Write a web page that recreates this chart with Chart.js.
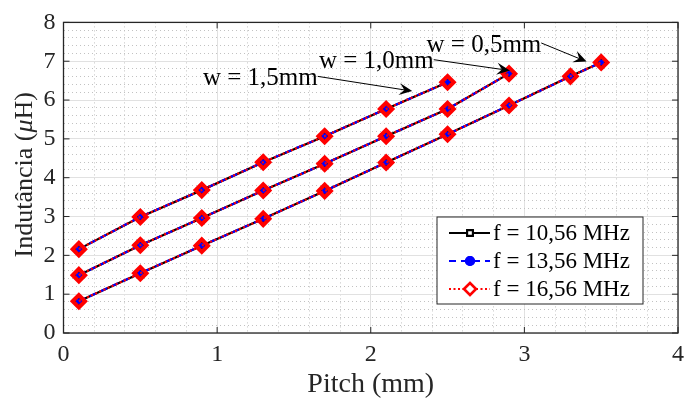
<!DOCTYPE html>
<html>
<head>
<meta charset="utf-8">
<script src="https://cdn.jsdelivr.net/npm/chart.js@4.4.1/dist/chart.umd.min.js"></script>
<style>
  html, body { margin: 0; padding: 0; background: #fff; }
  #wrap { position: relative; width: 697px; height: 400px; }
</style>
</head>
<body>
<div id="wrap"><canvas id="chart"></canvas></div>
<script>
// pitch (mm) and inductance (uH) for each trace width
const pitch15 = [0.1, 0.5, 0.9, 1.3, 1.7, 2.1, 2.5]
const ind15 = [2.16, 2.99, 3.68, 4.40, 5.07, 5.77, 6.46]
const pitch10 = [0.1, 0.5, 0.9, 1.3, 1.7, 2.1, 2.5, 2.9]
const ind10 = [1.49, 2.26, 2.96, 3.67, 4.36, 5.07, 5.77, 6.68]
const pitch05 = [0.1, 0.5, 0.9, 1.3, 1.7, 2.1, 2.5, 2.9, 3.3, 3.5]
const ind05 = [0.82, 1.54, 2.25, 2.94, 3.66, 4.39, 5.12, 5.86, 6.61, 6.97]

const freqLabels = ['f = 10,56 MHz', 'f = 13,56 MHz', 'f = 16,56 MHz']
const widthLabels = ['w = 1,5mm', 'w = 1,0mm', 'w = 0,5mm']

const SERIF = '"Liberation Serif", "Times New Roman", serif'
const AXIS_COLOR = '#262626'

// one look per frequency: black squares, blue dots, red diamonds
const freqStyles = [
  { color: '#000000', dash: [], pointStyle: 'rect', radius: 4.5, fill: 'rgba(0,0,0,0)', pointBorder: 2, order: 2 },
  { color: '#0000ff', dash: [7, 5], pointStyle: 'circle', radius: 2.5, fill: '#0000ff', pointBorder: 1, order: 1 },
  { color: '#ff0000', dash: [2, 2.5], pointStyle: 'rectRot', radius: 6.2, fill: 'rgba(0,0,0,0)', pointBorder: 4, order: 0 }
]

// arrow annotations in data units (text sits left of the tail)
const notes = [
  { text: widthLabels[0], from: [1.655, 6.61], to: [2.27, 6.23] },
  { text: widthLabels[1], from: [2.41, 7.04], to: [2.905, 6.76] },
  { text: widthLabels[2], from: [3.11, 7.47], to: [3.405, 6.99] }
]

const groups = [[pitch15, ind15], [pitch10, ind10], [pitch05, ind05]]

function toPoints(xs, ys) {
  return xs.map((x, i) => ({ x: x, y: ys[i] }))
}

const datasets = []
freqStyles.forEach((s, fi) => {
  groups.forEach((g, gi) => {
    datasets.push({
      label: freqLabels[fi],
      data: toPoints(g[0], g[1]),
      borderColor: s.color,
      borderWidth: 2.2,
      borderDash: s.dash,
      pointStyle: s.pointStyle,
      pointRadius: s.radius,
      pointBorderWidth: s.pointBorder,
      pointBorderColor: s.color,
      pointBackgroundColor: s.fill,
      order: s.order,
      tension: 0,
      fill: false
    })
  })
})

const isMajor = v => Math.abs(v - Math.round(v)) < 1e-6

function gridScale(max) {
  return {
    type: 'linear',
    min: 0,
    max: max,
    ticks: {
      stepSize: 0.2,
      autoSkip: false,
      maxTicksLimit: 100,
      maxRotation: 0,
      color: AXIS_COLOR,
      font: { family: SERIF, size: 24 },
      callback: v => isMajor(v) ? String(Math.round(v)) : ''
    },
    grid: {
      drawTicks: false,
      lineWidth: 1,
      color: c => isMajor(c.tick.value) ? '#e1e1e1' : '#c2c2c2'
    },
    border: {
      display: false,
      dash: c => (c.tick && !isMajor(c.tick.value)) ? [1, 3] : []
    }
  }
}

const xScale = gridScale(4)
xScale.ticks.padding = 7
xScale.title = {
  display: true,
  text: 'Pitch (mm)',
  color: AXIS_COLOR,
  font: { family: SERIF, size: 28, lineHeight: 1 },
  padding: { top: 0, bottom: 1 }
}
xScale.afterFit = s => { s.height = 67 }

const yScale = gridScale(8)
yScale.ticks.padding = 8
yScale.afterFit = s => { s.width = 63.5 }

// box, inner tick marks, y title with italic mu
const framePlugin = {
  id: 'frame',
  afterDatasetsDraw(chart) {
    const ctx = chart.ctx
    const a = chart.chartArea
    const xs = chart.scales.x, ys = chart.scales.y
    ctx.save()
    ctx.strokeStyle = AXIS_COLOR
    ctx.lineWidth = 1
    ctx.setLineDash([])
    ctx.beginPath()
    for (let v = 0; v <= 4; v++) {
      const px = xs.getPixelForValue(v)
      ctx.moveTo(px, a.bottom); ctx.lineTo(px, a.bottom - 6)
      ctx.moveTo(px, a.top); ctx.lineTo(px, a.top + 6)
    }
    for (let v = 0; v <= 8; v++) {
      const py = ys.getPixelForValue(v)
      ctx.moveTo(a.left, py); ctx.lineTo(a.left + 6, py)
      ctx.moveTo(a.right, py); ctx.lineTo(a.right - 6, py)
    }
    ctx.stroke()
    ctx.lineWidth = 1.3
    ctx.strokeRect(a.left, a.top, a.right - a.left, a.bottom - a.top)

    // y axis title
    const parts = [['Indutância (', ''], ['μ', 'italic '], ['H)', '']]
    ctx.fillStyle = AXIS_COLOR
    ctx.textBaseline = 'alphabetic'
    ctx.textAlign = 'left'
    let total = 0
    parts.forEach(p => { ctx.font = p[1] + '26px ' + SERIF; total += ctx.measureText(p[0]).width })
    ctx.translate(32, (a.top + a.bottom) / 2 - 3)
    ctx.rotate(-Math.PI / 2)
    let cx = -total / 2
    parts.forEach(p => {
      ctx.font = p[1] + '26px ' + SERIF
      ctx.fillText(p[0], cx, 0)
      cx += ctx.measureText(p[0]).width
    })
    ctx.restore()
  }
}

// arrows with labels
const notesPlugin = {
  id: 'notes',
  afterDatasetsDraw(chart) {
    const ctx = chart.ctx
    const xs = chart.scales.x, ys = chart.scales.y
    ctx.save()
    notes.forEach(n => {
      const x0 = xs.getPixelForValue(n.from[0]), y0 = ys.getPixelForValue(n.from[1])
      const x1 = xs.getPixelForValue(n.to[0]), y1 = ys.getPixelForValue(n.to[1])
      const ang = Math.atan2(y1 - y0, x1 - x0)
      const len = 13, half = 6, notch = 8
      ctx.strokeStyle = '#000'
      ctx.fillStyle = '#000'
      ctx.lineWidth = 1
      ctx.setLineDash([])
      ctx.beginPath()
      ctx.moveTo(x0, y0)
      ctx.lineTo(x1 - Math.cos(ang) * notch, y1 - Math.sin(ang) * notch)
      ctx.stroke()
      ctx.save()
      ctx.translate(x1, y1)
      ctx.rotate(ang)
      ctx.beginPath()
      ctx.moveTo(0, 0)
      ctx.lineTo(-len, -half)
      ctx.lineTo(-notch, 0)
      ctx.lineTo(-len, half)
      ctx.closePath()
      ctx.fill()
      ctx.restore()
      ctx.font = '25px ' + SERIF
      ctx.textAlign = 'right'
      ctx.textBaseline = 'middle'
      ctx.fillText(n.text, x0, y0 + 2)
    })
    ctx.restore()
  }
}

// legend box inside the axes, lower right
const legendPlugin = {
  id: 'boxLegend',
  afterDraw(chart) {
    const ctx = chart.ctx
    const a = chart.chartArea
    const w = 206, h = 87
    const left = a.right - 35 - w, top = a.bottom - 29 - h
    ctx.save()
    ctx.fillStyle = '#fff'
    ctx.fillRect(left, top, w, h)
    ctx.strokeStyle = AXIS_COLOR
    ctx.lineWidth = 1
    ctx.setLineDash([])
    ctx.strokeRect(left, top, w, h)
    freqStyles.forEach((s, i) => {
      const cy = top + 16 + i * 28
      const lx0 = left + 12, lx1 = left + 53, mx = left + 33
      ctx.strokeStyle = s.color
      ctx.lineWidth = 2.2
      ctx.setLineDash(s.dash)
      ctx.beginPath()
      ctx.moveTo(lx0, cy); ctx.lineTo(lx1, cy)
      ctx.stroke()
      ctx.setLineDash([])
      Chart.helpers.drawPoint(ctx, {
        pointStyle: s.pointStyle,
        radius: s.pointStyle === 'rectRot' ? 6 : 4,
        rotation: 0,
        borderWidth: 2
      }, mx, cy)
      ctx.fillStyle = s.pointStyle === 'circle' ? s.color : '#fff'
      ctx.fill()
      ctx.strokeStyle = s.color
      ctx.lineWidth = s.pointStyle === 'rectRot' ? 2.5 : 2
      ctx.stroke()
      ctx.fillStyle = '#000'
      ctx.font = '23px ' + SERIF
      ctx.textAlign = 'left'
      ctx.textBaseline = 'middle'
      ctx.fillText(freqLabels[i], left + 56, cy + 1)
    })
    ctx.restore()
  }
}

new Chart(document.getElementById('chart'), {
  type: 'line',
  data: { datasets: datasets },
  options: {
    responsive: true,
    maintainAspectRatio: false,
    animation: false,
    layout: { padding: { top: 17, right: 19, left: 0, bottom: 0 } },
    scales: { x: xScale, y: yScale },
    plugins: {
      legend: { display: false },
      tooltip: { enabled: false }
    }
  },
  plugins: [framePlugin, notesPlugin, legendPlugin]
})
</script>
</body>
</html>
